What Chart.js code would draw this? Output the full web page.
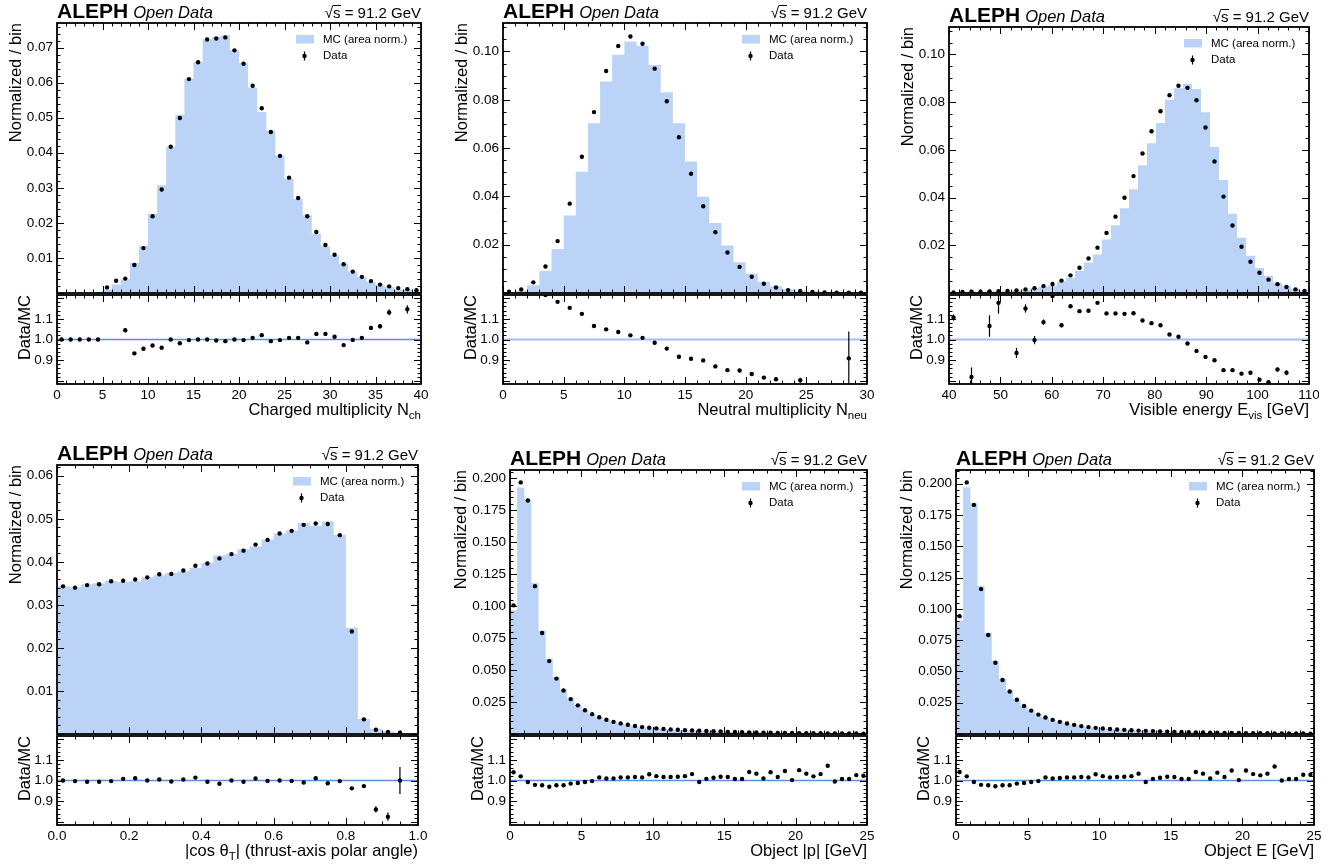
<!DOCTYPE html>
<html>
<head>
<meta charset="utf-8">
<title>ALEPH Open Data - event shapes</title>
<script src="https://cdn.jsdelivr.net/npm/chart.js@4.4.1/dist/chart.umd.min.js"></script>
<style>
  html, body { margin: 0; padding: 0; background: #fff; }
  #page { position: relative; width: 1344px; height: 867px; overflow: hidden; }
  #page canvas { position: absolute; }
</style>
</head>
<body>
<div id="page"></div>
<script>
// charged multiplicity, bins of 1 from 0 to 40
const nchMC = [0.0001, 0.0001, 0.0001, 0.0001, 0.0001, 0.0010, 0.0024, 0.0039, 0.0086, 0.0134,
  0.0226, 0.0307, 0.0417, 0.0508, 0.0612, 0.0658, 0.0723, 0.0730, 0.0735, 0.0692,
  0.0656, 0.0586, 0.0516, 0.0463, 0.0392, 0.0326, 0.0269, 0.0222, 0.0169, 0.0133,
  0.0108, 0.0084, 0.0061, 0.0046, 0.0032, 0.0023, 0.0017, 0.0011, 0.0010, 0.0006];
const nchData = [null, null, null, null, null, 0.0016, 0.0035, 0.0041, 0.0080, 0.0128,
  0.0219, 0.0295, 0.0417, 0.0499, 0.0610, 0.0658, 0.0723, 0.0726, 0.0729, 0.0692,
  0.0654, 0.0591, 0.0527, 0.0459, 0.0391, 0.0329, 0.0271, 0.0219, 0.0174, 0.0137,
  0.0109, 0.0082, 0.0061, 0.0046, 0.0034, 0.0024, 0.0019, 0.0014, 0.0011, 0.0008];
const nchRatio = [1.000, 1.000, 1.000, 1.000, 1.000, null, null, 1.045, 0.933, 0.955,
  0.971, 0.960, 1.000, 0.982, 0.997, 1.000, 1.000, 0.995, 0.992, 1.000,
  0.997, 1.008, 1.021, 0.992, 0.997, 1.008, 1.008, 0.986, 1.027, 1.027,
  1.013, 0.973, 0.998, 1.008, 1.056, 1.064, 1.131, null, 1.146, null];
const nchRatioErr = [0, 0, 0, 0, 0, 0, 0, 0.010, 0.004, 0.003,
  0.003, 0.002, 0.002, 0.002, 0.002, 0.002, 0.002, 0.002, 0.002, 0.002,
  0.002, 0.002, 0.002, 0.002, 0.002, 0.003, 0.003, 0.003, 0.004, 0.004,
  0.005, 0.006, 0.007, 0.008, 0.010, 0.011, 0.014, 0, 0.020, 0];

// neutral multiplicity, bins of 1 from 0 to 30
const nneuMC = [0.0002, 0.0008, 0.0032, 0.0091, 0.0182, 0.0321, 0.0502, 0.0703, 0.0876, 0.0987,
  0.1041, 0.1024, 0.0944, 0.0831, 0.0703, 0.0545, 0.0399, 0.0290, 0.0197, 0.0127,
  0.0080, 0.0047, 0.0028, 0.0016, 0.0010, 0.0006, 0.0003, 0.0002, 0.0001, 0.0001];
const nneuData = [0.0005, 0.0015, 0.0044, 0.0110, 0.0215, 0.0370, 0.0564, 0.0749, 0.0919, 0.1023,
  0.1062, 0.1032, 0.0929, 0.0794, 0.0645, 0.0494, 0.0359, 0.0252, 0.0168, 0.0108,
  0.0067, 0.0038, 0.0023, 0.0012, 0.0008, 0.0004, 0.0002, 0.0001, 0.0001, 0.0001];
const nneuRatio = [null, null, null, 1.215, 1.182, 1.153, 1.124, 1.065, 1.049, 1.036,
  1.020, 1.008, 0.984, 0.956, 0.917, 0.907, 0.899, 0.870, 0.852, 0.850,
  0.833, 0.816, 0.808, null, 0.803, null, null, null, 0.909, null];
const nneuRatioErr = [0, 0, 0, 0.004, 0.003, 0.002, 0.002, 0.002, 0.002, 0.002,
  0.002, 0.002, 0.002, 0.002, 0.002, 0.002, 0.002, 0.003, 0.003, 0.004,
  0.005, 0.006, 0.008, 0, 0.012, 0, 0, 0, 0.130, 0];

// visible energy, 40 bins from 40 to 110 GeV
const evisMC = [0.0002, 0.0003, 0.0006, 0.0004, 0.0007, 0.0007, 0.0007, 0.0012, 0.0013, 0.0020,
  0.0027, 0.0031, 0.0049, 0.0064, 0.0093, 0.0127, 0.0161, 0.0224, 0.0284, 0.0355,
  0.0435, 0.0536, 0.0628, 0.0713, 0.0810, 0.0858, 0.0877, 0.0855, 0.0758, 0.0612,
  0.0474, 0.0332, 0.0232, 0.0156, 0.0105, 0.0071, 0.0043, 0.0030, 0.0018, 0.0011];
const evisData = [0.0002, 0.0004, 0.0005, 0.0005, 0.0007, 0.0008, 0.0009, 0.0011, 0.0015, 0.0020,
  0.0029, 0.0038, 0.0052, 0.0074, 0.0106, 0.0145, 0.0190, 0.0252, 0.0320, 0.0399,
  0.0490, 0.0585, 0.0678, 0.0762, 0.0829, 0.0869, 0.0860, 0.0808, 0.0694, 0.0551,
  0.0404, 0.0283, 0.0194, 0.0131, 0.0085, 0.0056, 0.0037, 0.0025, 0.0015, 0.0009];
const evisRatio = [1.106, null, 0.819, null, 1.065, 1.177, null, 0.935, 1.150, 0.997,
  1.084, 1.210, 1.069, 1.161, 1.137, 1.139, 1.177, 1.126, 1.126, 1.124,
  1.127, 1.092, 1.079, 1.069, 1.024, 1.013, 0.981, 0.945, 0.916, 0.900,
  0.852, 0.852, 0.835, 0.839, 0.806, 0.794, 0.855, 0.839, null, null];
const evisRatioErr = [0.015, 0, 0.046, 0, 0.052, 0.052, 0, 0.024, 0.020, 0.020,
  0.013, 0.010, 0.010, 0.008, 0.006, 0.005, 0.004, 0.004, 0.003, 0.003,
  0.003, 0.003, 0.002, 0.002, 0.002, 0.002, 0.002, 0.002, 0.002, 0.002,
  0.003, 0.003, 0.004, 0.005, 0.006, 0.008, 0.009, 0.012, 0, 0];

// |cos theta_T|, 30 bins from 0 to 1
const cosMC = [0.0343, 0.0341, 0.0348, 0.0350, 0.0356, 0.0353, 0.0355, 0.0364, 0.0369, 0.0374,
  0.0378, 0.0386, 0.0398, 0.0415, 0.0418, 0.0429, 0.0436, 0.0452, 0.0466, 0.0473,
  0.0491, 0.0484, 0.0494, 0.0463, 0.0247, 0.0035, 0.0012, 0.0006, 0.0003, 0.0000];
const cosData = [0.0343, 0.0340, 0.0346, 0.0348, 0.0355, 0.0356, 0.0359, 0.0364, 0.0371, 0.0372,
  0.0380, 0.0391, 0.0396, 0.0408, 0.0418, 0.0426, 0.0440, 0.0451, 0.0466, 0.0472,
  0.0486, 0.0489, 0.0488, 0.0462, 0.0238, 0.0034, 0.0010, 0.0005, 0.0003, null];
const cosRatio = [1.000, 0.997, 0.994, 0.994, 0.997, 1.008, 1.011, 1.000, 1.005, 0.995,
  1.005, 1.014, 0.994, 0.984, 1.000, 0.994, 1.010, 0.998, 1.000, 0.998,
  0.990, 1.011, 0.987, 0.997, 0.962, 0.973, 0.860, 0.825, 1.000, null];
const cosRatioErr = [0.002, 0.002, 0.002, 0.002, 0.002, 0.002, 0.002, 0.002, 0.002, 0.002,
  0.002, 0.002, 0.002, 0.002, 0.002, 0.002, 0.002, 0.002, 0.002, 0.002,
  0.002, 0.002, 0.002, 0.002, 0.003, 0.006, 0.015, 0.020, 0.065, 0];

// object |p|, 50 bins from 0 to 25 GeV
const pMC = [0.0967, 0.1928, 0.1838, 0.1181, 0.0809, 0.0588, 0.0443, 0.0348, 0.0277, 0.0227,
  0.0187, 0.0155, 0.0129, 0.0110, 0.0094, 0.0082, 0.0071, 0.0061, 0.0053, 0.0048,
  0.0043, 0.0039, 0.0035, 0.0032, 0.0029, 0.0026, 0.0025, 0.0023, 0.0021, 0.0019,
  0.0017, 0.0016, 0.0015, 0.0012, 0.0012, 0.0011, 0.0010, 0.0009, 0.0009, 0.0008,
  0.0007, 0.0007, 0.0006, 0.0006, 0.0005, 0.0005, 0.0004, 0.0004, 0.0004, 0.0003];
const pData = [0.1006, 0.1967, 0.1825, 0.1156, 0.0790, 0.0570, 0.0433, 0.0340, 0.0273, 0.0224,
  0.0186, 0.0155, 0.0131, 0.0111, 0.0095, 0.0083, 0.0072, 0.0062, 0.0054, 0.0049,
  0.0044, 0.0040, 0.0036, 0.0033, 0.0030, 0.0027, 0.0025, 0.0023, 0.0021, 0.0019,
  0.0017, 0.0016, 0.0015, 0.0013, 0.0012, 0.0011, 0.0010, 0.0009, 0.0009, 0.0008,
  0.0007, 0.0007, 0.0006, 0.0006, 0.0005, 0.0005, 0.0004, 0.0004, 0.0004, 0.0003];
const pRatio = [1.040, 1.020, 0.993, 0.979, 0.977, 0.970, 0.977, 0.977, 0.985, 0.988,
  0.993, 0.997, 1.015, 1.010, 1.010, 1.015, 1.015, 1.017, 1.015, 1.030,
  1.021, 1.017, 1.017, 1.018, 1.021, 1.031, 0.993, 1.008, 1.013, 1.018,
  1.017, 1.007, 1.007, 1.041, 1.033, 1.010, 1.040, 1.017, 1.046, 1.002,
  1.050, 1.033, 1.020, 1.031, 1.071, 0.995, 1.007, 1.007, 1.026, 1.023];

// object E, 50 bins from 0 to 25 GeV
const eMC = [0.0905, 0.1972, 0.1844, 0.1183, 0.0810, 0.0585, 0.0442, 0.0348, 0.0278, 0.0227,
  0.0188, 0.0155, 0.0130, 0.0112, 0.0096, 0.0083, 0.0072, 0.0062, 0.0054, 0.0048,
  0.0043, 0.0039, 0.0035, 0.0032, 0.0029, 0.0026, 0.0025, 0.0023, 0.0021, 0.0019,
  0.0017, 0.0016, 0.0015, 0.0012, 0.0012, 0.0011, 0.0010, 0.0009, 0.0009, 0.0008,
  0.0007, 0.0007, 0.0006, 0.0006, 0.0005, 0.0005, 0.0004, 0.0004, 0.0004, 0.0003];
const eData = [0.0942, 0.2011, 0.1831, 0.1158, 0.0791, 0.0569, 0.0432, 0.0340, 0.0274, 0.0224,
  0.0187, 0.0155, 0.0132, 0.0113, 0.0097, 0.0084, 0.0073, 0.0063, 0.0055, 0.0049,
  0.0044, 0.0040, 0.0036, 0.0033, 0.0030, 0.0027, 0.0025, 0.0023, 0.0021, 0.0019,
  0.0017, 0.0016, 0.0015, 0.0013, 0.0012, 0.0011, 0.0010, 0.0009, 0.0009, 0.0008,
  0.0007, 0.0007, 0.0006, 0.0006, 0.0005, 0.0005, 0.0004, 0.0004, 0.0004, 0.0003];
const eRatio = [1.041, 1.020, 0.993, 0.979, 0.977, 0.972, 0.977, 0.977, 0.985, 0.988,
  0.993, 0.997, 1.015, 1.010, 1.012, 1.015, 1.015, 1.017, 1.015, 1.030,
  1.021, 1.015, 1.017, 1.018, 1.021, 1.033, 0.993, 1.008, 1.013, 1.018,
  1.017, 1.007, 1.007, 1.041, 1.033, 1.010, 1.038, 1.017, 1.048, 1.002,
  1.048, 1.031, 1.025, 1.033, 1.068, 1.000, 1.007, 1.007, 1.028, 1.028];

// tick labels
const nchXTicks = [0, 5, 10, 15, 20, 25, 30, 35, 40];
const nchYTicks = [0.01, 0.02, 0.03, 0.04, 0.05, 0.06, 0.07];
const nneuXTicks = [0, 5, 10, 15, 20, 25, 30];
const nneuYTicks = [0.02, 0.04, 0.06, 0.08, 0.10];
const evisXTicks = [40, 50, 60, 70, 80, 90, 100, 110];
const evisYTicks = [0.02, 0.04, 0.06, 0.08, 0.10];
const cosXTicks = [0, 0.2, 0.4, 0.6, 0.8, 1.0];
const cosYTicks = [0.01, 0.02, 0.03, 0.04, 0.05, 0.06];
const objXTicks = [0, 5, 10, 15, 20, 25];
const objYTicks = [0.025, 0.050, 0.075, 0.100, 0.125, 0.150, 0.175, 0.200];
const ratioYTicks = [0.9, 1.0, 1.1];

const FONT = '"Liberation Sans", Arial, Helvetica, sans-serif';
const MC_COLOR = '#bcd3f8';
const AXIS_W = 60, HEAD = 28, RPAD = 10, XAXIS_H = 46;

Chart.defaults.font.family = FONT;
Chart.defaults.color = '#000';

const panels = [
  { L: 57, R: 421, T: 23, S: 294, B: 384, lo: 0, hi: 40, n: 40,
    mc: nchMC, data: nchData, ratio: nchRatio, err: nchRatioErr,
    ymax: 0.0770, xTicks: nchXTicks, yTicks: nchYTicks, xDec: 0, yDec: 2,
    xMajor: 5, xMinor: 1, yMajor: 0.01, yMinor: 0.002, yPad: 10,
    line: ['#5b8fe0', 1.3], title: [['Charged multiplicity N'], ['ch', 1]] },
  { L: 503, R: 867, T: 23, S: 294, B: 384, lo: 0, hi: 30, n: 30,
    mc: nneuMC, data: nneuData, ratio: nneuRatio, err: nneuRatioErr,
    ymax: 0.1118, xTicks: nneuXTicks, yTicks: nneuYTicks, xDec: 0, yDec: 2,
    xMajor: 5, xMinor: 1, yMajor: 0.02, yMinor: 0.005, yPad: 10,
    line: ['#9dbff3', 2.2], title: [['Neutral multiplicity N'], ['neu', 1]] },
  { L: 949, R: 1309, T: 27, S: 294, B: 384, lo: 40, hi: 110, n: 40,
    mc: evisMC, data: evisData, ratio: evisRatio, err: evisRatioErr,
    ymax: 0.1115, xTicks: evisXTicks, yTicks: evisYTicks, xDec: 0, yDec: 2,
    xMajor: 10, xMinor: 2, yMajor: 0.02, yMinor: 0.005, yPad: 10,
    line: ['#9dbff3', 2.2], title: [['Visible energy E'], ['vis', 1], [' [GeV]']] },
  { L: 57, R: 418, T: 465, S: 735, B: 825, lo: 0, hi: 1, n: 30,
    mc: cosMC, data: cosData, ratio: cosRatio, err: cosRatioErr,
    ymax: 0.0625, xTicks: cosXTicks, yTicks: cosYTicks, xDec: 1, yDec: 2,
    xMajor: 0.2, xMinor: 0.05, yMajor: 0.01, yMinor: 0.002, yPad: 10,
    line: ['#5b8fe0', 1.3], title: [['|cos θ'], ['T', 1], ['| (thrust-axis polar angle)']] },
  { L: 510, R: 867, T: 470, S: 735, B: 825, lo: 0, hi: 25, n: 50,
    mc: pMC, data: pData, ratio: pRatio, err: null,
    ymax: 0.2064, xTicks: objXTicks, yTicks: objYTicks, xDec: 0, yDec: 3,
    xMajor: 5, xMinor: 1, yMajor: 0.025, yMinor: 0.005, yPad: 2,
    line: ['#5b8fe0', 1.3], title: [['Object |p| [GeV]']] },
  { L: 956, R: 1314, T: 470, S: 735, B: 825, lo: 0, hi: 25, n: 50,
    mc: eMC, data: eData, ratio: eRatio, err: null,
    ymax: 0.2110, xTicks: objXTicks, yTicks: objYTicks, xDec: 0, yDec: 3,
    xMajor: 5, xMinor: 1, yMajor: 0.025, yMinor: 0.005, yPad: 2,
    line: ['#5b8fe0', 1.3], title: [['Object E [GeV]']] }
];

const page = document.getElementById('page');

function makeCanvas(left, top, w, h) {
  const c = document.createElement('canvas');
  c.width = w; c.height = h;
  c.style.left = left + 'px'; c.style.top = top + 'px';
  c.style.width = w + 'px'; c.style.height = h + 'px';
  page.appendChild(c);
  return c;
}

function binEdges(lo, hi, n) {
  const w = (hi - lo) / n;
  return Array.from({ length: n + 1 }, (_, i) => lo + i * w);
}

function tickList(min, max, step) {
  const out = [];
  const k0 = Math.ceil(min / step - 1e-6), k1 = Math.floor(max / step + 1e-6);
  for (let k = k0; k <= k1; k++) out.push(k * step);
  return out;
}

// inward ticks on all four sides, then the frame
function drawFrame(chart, xMajor, xMinor, yMajor, yMinor) {
  const { ctx, chartArea: a, scales: { x, y } } = chart;
  ctx.save();
  ctx.strokeStyle = '#000';
  ctx.lineWidth = 1;
  const mark = (vals, len, horiz) => {
    ctx.beginPath();
    for (const v of vals) {
      if (horiz) {
        const px = Math.round(x.getPixelForValue(v)) + 0.5;
        if (px < a.left - 1 || px > a.right + 1) continue;
        ctx.moveTo(px, a.bottom); ctx.lineTo(px, a.bottom - len);
        ctx.moveTo(px, a.top); ctx.lineTo(px, a.top + len);
      } else {
        const py = Math.round(y.getPixelForValue(v)) + 0.5;
        if (py < a.top - 1 || py > a.bottom + 1) continue;
        ctx.moveTo(a.left, py); ctx.lineTo(a.left + len, py);
        ctx.moveTo(a.right, py); ctx.lineTo(a.right - len, py);
      }
    }
    ctx.stroke();
  };
  mark(tickList(x.min, x.max, xMinor), 3.5, true);
  mark(tickList(x.min, x.max, xMajor), 7, true);
  mark(tickList(y.min, y.max, yMinor), 3.5, false);
  mark(tickList(y.min, y.max, yMajor), 7, false);
  ctx.lineWidth = 1.8;
  ctx.strokeRect(a.left, a.top, a.right - a.left, a.bottom - a.top);
  ctx.restore();
}

function drawErrors(chart) {
  const { ctx, chartArea: a } = chart;
  ctx.save();
  ctx.beginPath();
  ctx.rect(a.left, a.top, a.right - a.left, a.bottom - a.top);
  ctx.clip();
  ctx.strokeStyle = '#000';
  ctx.lineWidth = 1.2;
  chart.data.datasets.forEach((ds, i) => {
    if (!ds.errors) return;
    const meta = chart.getDatasetMeta(i);
    const ys = chart.scales[meta.yAxisID];
    meta.data.forEach((el, j) => {
      const v = ds.data[j].y, e = ds.errors[j];
      if (v == null || !e) return;
      ctx.beginPath();
      ctx.moveTo(el.x, ys.getPixelForValue(v - e));
      ctx.lineTo(el.x, ys.getPixelForValue(v + e));
      ctx.stroke();
    });
  });
  ctx.restore();
}

function drawHeader(chart) {
  const { ctx, chartArea: a } = chart;
  const base = a.top - 5;
  ctx.save();
  ctx.fillStyle = '#000';
  ctx.textBaseline = 'alphabetic';
  ctx.textAlign = 'left';
  ctx.font = 'bold 21px ' + FONT;
  ctx.fillText('ALEPH', a.left, base);
  const w = ctx.measureText('ALEPH').width;
  ctx.font = 'italic 16.5px ' + FONT;
  ctx.fillText('Open Data', a.left + w + 5, base);

  ctx.font = '15px ' + FONT;
  const rest = ' = 91.2 GeV';
  let x = a.right - ctx.measureText(rest).width;
  ctx.fillText(rest, x, base);
  const ws = ctx.measureText('s').width;
  x -= ws;
  ctx.fillText('s', x, base);
  ctx.beginPath();
  ctx.lineWidth = 1;
  ctx.moveTo(x - 0.5, base - 12.5);
  ctx.lineTo(x + ws + 0.5, base - 12.5);
  ctx.stroke();
  x -= ctx.measureText('√').width;
  ctx.fillText('√', x, base);

  // legend
  ctx.fillStyle = MC_COLOR;
  ctx.fillRect(a.right - 125, a.top + 12, 18, 8.5);
  ctx.fillStyle = '#000';
  ctx.font = '11.5px ' + FONT;
  ctx.textBaseline = 'middle';
  ctx.fillText('MC (area norm.)', a.right - 98, a.top + 16.5);
  ctx.fillText('Data', a.right - 98, a.top + 33);
  ctx.beginPath();
  ctx.arc(a.right - 116.5, a.top + 33, 2.2, 0, Math.PI * 2);
  ctx.fill();
  ctx.beginPath();
  ctx.lineWidth = 1.2;
  ctx.moveTo(a.right - 116.5, a.top + 28.5);
  ctx.lineTo(a.right - 116.5, a.top + 37.5);
  ctx.stroke();
  ctx.restore();
}

function drawXTitle(chart, segs) {
  const { ctx, chartArea: a } = chart;
  const big = '16.5px ' + FONT, small = '11.5px ' + FONT;
  ctx.save();
  ctx.fillStyle = '#000';
  ctx.textAlign = 'left';
  ctx.textBaseline = 'alphabetic';
  let w = 0;
  for (const [t, sub] of segs) { ctx.font = sub ? small : big; w += ctx.measureText(t).width; }
  let x = a.right - w;
  const base = a.bottom + 31;
  for (const [t, sub] of segs) {
    ctx.font = sub ? small : big;
    ctx.fillText(t, x, base + (sub ? 3.5 : 0));
    x += ctx.measureText(t).width;
  }
  ctx.restore();
}

function yAxis(min, max, ticks, dec, title, pad) {
  return {
    min: min, max: max,
    grid: { display: false, drawTicks: false }, border: { display: false },
    afterBuildTicks: s => { s.ticks = ticks.map(v => ({ value: v })); },
    ticks: { padding: 4, font: { size: 13.5 }, autoSkip: false, callback: v => v.toFixed(dec) },
    title: { display: true, text: title, align: 'end', font: { size: 16.5 }, padding: { top: pad, bottom: 0 } },
    afterFit: s => { s.width = AXIS_W; s.paddingTop = 0; s.paddingBottom = 0; }
  };
}

panels.forEach(p => {
  const edges = binEdges(p.lo, p.hi, p.n);
  const centers = edges.slice(0, -1).map((e, i) => (e + edges[i + 1]) / 2);
  const mcSteps = p.mc.map((v, i) => ({ x: edges[i], y: v })).concat([{ x: p.hi, y: p.mc[p.n - 1] }]);
  const dataPts = p.data.map((v, i) => ({ x: centers[i], y: v }));
  const ratioPts = p.ratio.map((v, i) => ({ x: centers[i], y: v }));
  const width = p.R - p.L + AXIS_W + RPAD;

  // upper panel: normalized distributions
  new Chart(makeCanvas(p.L - AXIS_W, p.T - HEAD, width, p.S - p.T + HEAD + 3), {
    type: 'scatter',
    data: {
      datasets: [
        { type: 'line', label: 'MC (area norm.)', data: mcSteps, stepped: 'before', fill: 'origin',
          backgroundColor: MC_COLOR, borderWidth: 0, pointRadius: 0, order: 2 },
        { label: 'Data', data: dataPts, backgroundColor: '#000', borderWidth: 0,
          pointRadius: 2.2, order: 1, clip: 0 }
      ]
    },
    options: {
      responsive: false, animation: false, devicePixelRatio: 1, events: [],
      layout: { padding: { left: 0, top: HEAD, right: RPAD, bottom: 3 } },
      plugins: { legend: { display: false }, tooltip: { enabled: false } },
      scales: {
        x: { type: 'linear', min: p.lo, max: p.hi,
             grid: { display: false, drawTicks: false }, border: { display: false }, ticks: { display: false },
             afterFit: s => { s.height = 0; s.paddingLeft = 0; s.paddingRight = 0; } },
        y: yAxis(0, p.ymax, p.yTicks, p.yDec, 'Normalized / bin', p.yPad)
      }
    },
    plugins: [{
      id: 'hepMain',
      afterDraw: c => { drawFrame(c, p.xMajor, p.xMinor, p.yMajor, p.yMinor); drawHeader(c); }
    }]
  });

  // lower panel: Data/MC
  new Chart(makeCanvas(p.L - AXIS_W, p.S - 3, width, p.B - p.S + 3 + XAXIS_H), {
    type: 'scatter',
    data: {
      datasets: [
        { type: 'line', data: [{ x: p.lo, y: 1 }, { x: p.hi, y: 1 }], borderColor: p.line[0],
          borderWidth: p.line[1], pointRadius: 0, order: 2 },
        { data: ratioPts, errors: p.err, backgroundColor: '#000', borderWidth: 0,
          pointRadius: 2.2, order: 1, clip: 0 }
      ]
    },
    options: {
      responsive: false, animation: false, devicePixelRatio: 1, events: [],
      layout: { padding: { left: 0, top: 3, right: RPAD, bottom: 0 } },
      plugins: { legend: { display: false }, tooltip: { enabled: false } },
      scales: {
        x: { type: 'linear', min: p.lo, max: p.hi,
             grid: { display: false, drawTicks: false }, border: { display: false },
             afterBuildTicks: s => { s.ticks = p.xTicks.map(v => ({ value: v })); },
             ticks: { padding: 3, font: { size: 13.5 }, maxRotation: 0, autoSkip: false,
                      callback: v => v.toFixed(p.xDec) },
             afterFit: s => { s.height = XAXIS_H; s.paddingLeft = 0; s.paddingRight = 0; } },
        y: yAxis(0.785, 1.215, ratioYTicks, 1, 'Data/MC', 19)
      }
    },
    plugins: [{
      id: 'hepRatio',
      afterDatasetsDraw: c => drawErrors(c),
      afterDraw: c => { drawFrame(c, p.xMajor, p.xMinor, 0.1, 0.02); drawXTitle(c, p.title); }
    }]
  });
});
</script>
</body>
</html>
